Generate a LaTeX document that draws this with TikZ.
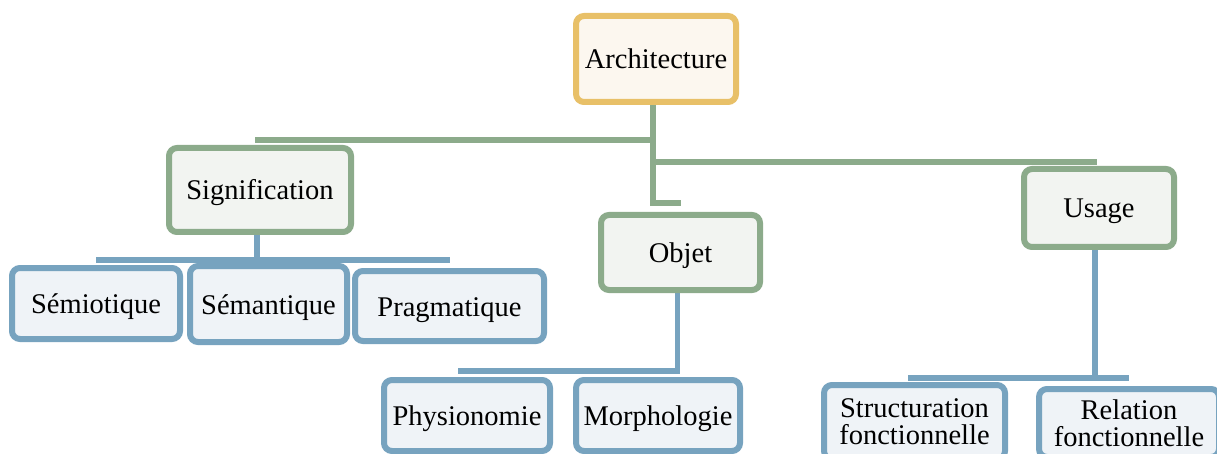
\documentclass[tikz,border=0pt]{standalone}
\usepackage{fontspec}
\setmainfont{Liberation Serif}
\definecolor{archEdge}{RGB}{232,192,104}
\definecolor{archFill}{RGB}{252,247,239}
\definecolor{midEdge}{RGB}{140,171,139}
\definecolor{midFill}{RGB}{242,244,241}
\definecolor{leafEdge}{RGB}{119,163,191}
\definecolor{leafFill}{RGB}{239,243,247}
\pgfdeclarelayer{bg}
\pgfsetlayers{bg,main}
\begin{document}
\begin{tikzpicture}[x=1pt,y=-1pt,
  box/.style={draw, line width=6pt, rounded corners=8pt, align=center,
    inner sep=0pt, font=\fontsize{28.5}{27}\selectfont},
  oneline/.style={text height=20pt, text depth=0pt},
  topbox/.style={box, draw=archEdge, fill=archFill},
  midbox/.style={box, oneline, draw=midEdge, fill=midFill},
  leafbox/.style={box, draw=leafEdge, fill=leafFill},
  gline/.style={draw=midEdge, line width=6pt},
  bline/.style={draw=leafEdge, line width=5.5pt},
]
\useasboundingbox (0,0) rectangle (1217,454);
\clip (0,0) rectangle (1217,454);

% root
\node[topbox, oneline, minimum width=160pt, minimum height=86pt] (arch) at (656,59) {Architecture};

% second level
\node[midbox, minimum width=182pt, minimum height=84pt] (sig) at (260,190) {Signification};
\node[midbox, minimum width=159pt, minimum height=75pt] (obj) at (680.5,252.5) {Objet};
\node[midbox, minimum width=150pt, minimum height=78pt] (usage) at (1099,208) {Usage};

% leaves
\node[leafbox, oneline, minimum width=168pt, minimum height=71pt] (semio) at (96,303.5) {Sémiotique};
\node[leafbox, oneline, minimum width=157pt, minimum height=76pt] (seman) at (268.5,304) {Sémantique};
\node[leafbox, oneline, minimum width=189pt, minimum height=70pt] (prag) at (449.5,306) {Pragmatique};
\node[leafbox, oneline, minimum width=166pt, minimum height=71pt] (phys) at (467,415.5) {Physionomie};
\node[leafbox, oneline, minimum width=164pt, minimum height=71pt] (morph) at (658,415.5) {Morphologie};
\node[leafbox, minimum width=181pt, minimum height=74pt] (struct) at (914.5,422) {Structuration\\fonctionnelle};
\node[leafbox, minimum width=180pt, minimum height=68pt] (rel) at (1129,423) {Relation\\fonctionnelle};

% levels of the horizontal runs
\coordinate (gL) at (0,140);
\coordinate (gU) at (0,162);
\coordinate (gO) at (0,203);
\coordinate (bS) at (0,260);
\coordinate (bO) at (0,371);
\coordinate (bU) at (0,378);

\begin{pgfonlayer}{bg}
  \draw[gline] ([xshift=-3pt]arch.south) |- ([xshift=-5pt]gL -| sig.north);
  \draw[gline] ([xshift=-3pt]arch.south) |- ([xshift=-2pt]gU -| usage.north);
  \draw[gline] ([xshift=-3pt]arch.south) |- (gO -| obj.north);

  \draw[bline] ([xshift=-3pt]sig.south) |- (bS -| semio.north);
  \draw[bline] ([xshift=-3pt]sig.south) |- (bS -| seman.north);
  \draw[bline] ([xshift=-3pt]sig.south) |- (bS -| prag.north);

  \draw[bline] ([xshift=-3pt]obj.south) |- ([xshift=-9pt]bO -| phys.north);
  \draw[bline] ([xshift=-3pt]obj.south) |- (bO -| morph.north);

  \draw[bline] ([xshift=-4pt]usage.south) |- ([xshift=-7pt]bU -| struct.north);
  \draw[bline] ([xshift=-4pt]usage.south) |- (bU -| rel.north);
\end{pgfonlayer}
\end{tikzpicture}
\end{document}
